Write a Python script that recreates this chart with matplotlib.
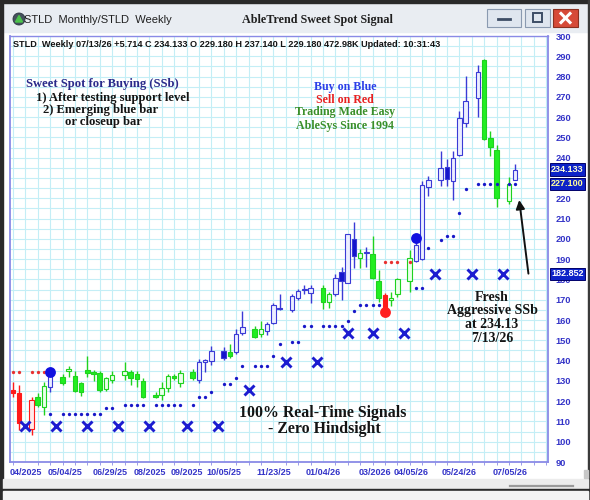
import matplotlib
matplotlib.use("Agg")
import matplotlib.pyplot as plt
import matplotlib.transforms as mtransforms
from matplotlib.patches import Rectangle, Circle, Polygon

# ---- data (slot = weekly bar position, gaps have no bar) ----
bar_slot = [0, 1, 3, 4, 5, 6, 8, 9, 10, 11, 12, 13, 14, 15, 16, 18, 19, 20, 21,
            23, 24, 25, 26, 27, 29, 30, 31, 32, 34, 35, 36, 37, 39, 40, 41, 42,
            43, 45, 46, 47, 48, 50, 51, 52, 53, 54, 55, 56, 57, 58, 59, 60, 61,
            62, 64, 65, 66, 67, 69, 70, 71, 72, 73, 75, 76, 77, 78, 80, 81]
bar_open = [125.6, 124.0, 106.3, 122.0, 117.0, 127.0, 131.8, 135.0, 132.5, 128.8,
            135.4, 134.6, 134.0, 125.8, 130.4, 132.8, 134.2, 133.6, 130.0, 123.0,
            123.0, 126.3, 132.3, 128.8, 134.6, 130.4, 139.4, 139.9, 144.7, 144.0,
            144.4, 153.4, 155.8, 153.0, 154.6, 158.6, 166.0, 164.9, 171.0, 174.6,
            173.4, 175.8, 168.9, 172.7, 183.7, 178.3, 200.1, 190.8, 192.8, 192.7,
            179.1, 172.3, 169.7, 172.6, 179.0, 188.9, 190.0, 225.5, 229.1, 235.2,
            228.3, 241.4, 257.0, 269.3, 288.0, 249.6, 243.8, 218.7, 229.18]
bar_high = [129.4, 128.0, 122.0, 124.0, 129.5, 134.4, 133.4, 137.5, 135.0, 129.6,
            142.2, 135.5, 134.8, 132.0, 135.0, 139.4, 135.4, 135.0, 131.5, 124.6,
            129.6, 133.4, 133.4, 135.4, 135.8, 141.0, 140.8, 147.0, 146.8, 148.4,
            155.8, 164.6, 157.0, 159.7, 159.0, 168.5, 172.7, 172.7, 175.4, 177.1,
            177.1, 177.1, 173.8, 182.5, 186.2, 202.6, 208.4, 195.1, 195.8, 201.6,
            184.8, 173.5, 173.8, 180.5, 194.7, 200.0, 228.3, 230.8, 243.4, 239.3,
            243.1, 263.2, 280.4, 285.8, 288.7, 253.4, 246.3, 230.3, 237.14]
bar_low = [122.0, 106.0, 103.3, 117.0, 113.0, 124.5, 128.0, 132.0, 124.3, 122.5,
           132.1, 130.0, 124.6, 125.0, 128.8, 130.4, 128.0, 127.0, 121.5, 121.4,
           120.6, 124.6, 130.4, 127.0, 130.4, 128.8, 134.4, 137.8, 140.3, 141.1,
           143.3, 152.6, 150.9, 151.7, 152.6, 158.0, 164.9, 164.1, 169.7, 172.7,
           168.5, 165.6, 166.1, 171.7, 169.9, 178.0, 185.4, 185.4, 186.2, 180.0,
           169.1, 164.0, 167.1, 171.3, 174.0, 188.4, 189.5, 221.0, 226.0, 226.0,
           219.0, 240.6, 255.0, 260.0, 248.8, 240.8, 215.8, 217.1, 229.18]
bar_close = [124.0, 109.0, 120.6, 118.0, 127.5, 132.4, 128.8, 135.8, 124.8, 124.3,
             133.7, 133.6, 125.5, 131.2, 132.8, 134.8, 131.6, 130.7, 122.2, 122.2,
             126.3, 132.3, 131.2, 134.0, 131.2, 139.5, 140.2, 144.9, 141.1, 142.4,
             153.0, 156.7, 151.7, 155.8, 157.8, 167.6, 165.4, 171.7, 174.1, 175.2,
             175.8, 168.9, 172.7, 180.9, 179.3, 202.3, 191.4, 193.2, 193.4, 180.9,
             170.6, 164.9, 171.0, 180.0, 190.5, 197.1, 226.6, 229.1, 234.9, 229.4,
             239.8, 259.8, 268.2, 282.5, 249.3, 245.5, 220.3, 226.9, 234.133]
#r = sell (red), b = buy (blue), g = neutral (green), one letter per bar
bar_mode = ("rrrggb" "ggggggggg" "gggg" "ggggg" "g" "bbbb" "g" "bb" "gg" "bbb"
            "bbbb" "gg" "bbbb" "g" "b" "gg" "r" "gg" "g" "bbb" "bbbbb" "b" "ggg"
            "g" "b")

blue_stop_slot = [6, 8, 9, 10, 11, 12, 13, 14, 15, 16, 18, 19, 20, 21, 23, 24, 25,
                  26, 27, 29, 30, 31, 32, 34, 35, 36, 37, 39, 40, 41, 42, 43, 45,
                  46, 47, 48, 50, 51, 52, 53, 54, 55, 56, 57, 58, 59, 65, 66, 67,
                  69, 70, 71, 72, 73, 75, 76, 77, 78, 80, 81]
blue_stop_val = [113.7, 113.7, 113.7, 113.7, 113.7, 113.7, 113.7, 113.7, 116.5,
                 116.5, 118.1, 118.1, 118.1, 118.1, 118.1, 118.1, 118.1, 118.1,
                 118.1, 118.1, 121.9, 121.9, 124.6, 128.3, 128.3, 131.2, 137.3,
                 137.3, 137.3, 137.3, 142.3, 148.2, 149.0, 149.0, 157.1, 157.1,
                 157.1, 157.1, 157.1, 157.1, 159.7, 164.2, 167.4, 167.4, 167.4,
                 167.4, 175.6, 175.6, 195.3, 199.3, 201.2, 201.2, 212.6, 224.5,
                 226.9, 226.9, 226.9, 226.9, 227.1, 227.1]
red_stop_slot = [0, 1, 3, 4, 5, 60, 61, 62, 64]
red_stop_val = [134.6, 134.6, 134.6, 134.6, 134.6, 188.7, 188.7, 188.7, 188.7]

month_stop_slot = [2, 7, 12, 17, 22, 28, 33, 38, 44, 49, 54, 58, 63, 68, 74, 79]
month_stop_val = [107.7, 107.7, 107.7, 107.7, 107.7, 107.7, 107.7, 125.5, 139.4,
                  139.4, 153.5, 153.5, 153.5, 182.85, 182.85, 182.85]

signal_slot = [6, 60, 65]
signal_val = [134.6, 164.1, 200.4]
signal_color = ["#1010e0", "#ff2020", "#1010e0"]

xtick_pos = [2, 8.4, 15.6, 22, 28, 34, 42, 50, 58.4, 64.2, 72, 80.2]
xtick_lab = ["04/2025", "05/04/25", "06/29/25", "08/2025", "09/2025", "10/05/25",
             "11/23/25", "01/04/26", "03/2026", "04/05/26", "05/24/26", "07/05/26"]
#230 sits behind the two price boxes on the original, so it is not drawn
ytick_val = [90, 100, 110, 120, 130, 140, 150, 160, 170, 180, 190, 200, 210, 220,
             240, 250, 260, 270, 280, 290, 300]

price_boxes = [(234.133, "234.133", "#ffffd8"), (227.100, "227.100", "#ffff9a"),
               (182.852, "182.852", "#ffffff")]

header = ("STLD  Weekly 07/13/26 +5.714 C 234.133 O 229.180 H 237.140 "
          "L 229.180 472.98K Updated: 10:31:43")

assert len(bar_mode) == len(bar_slot)

SERIF = "Liberation Serif"
SANS = "Liberation Sans"
W, H = 590, 500

edge_col = {"b": "#3a3ad6", "g": "#1fd21f", "r": "#ff1a1a"}
fill_col = {"b": "#1414cc", "g": "#22ee22", "r": "#ff1a1a"}
hollow_col = {"b": "#eceeff", "g": "#eaffea", "r": "#ffeaea"}

fig = plt.figure(figsize=(W / 100, H / 100), dpi=100, facecolor="white")

#Window chrome behind the chart
bg = fig.add_axes([0, 0, 1, 1])
bg.set_xlim(0, W)
bg.set_ylim(H, 0)
bg.axis("off")
bg.add_patch(Rectangle((0, 0), W, 32, color="#e9edf2"))
bg.add_patch(Rectangle((0, 0), W, 3, color="#2a2a2a"))
bg.add_patch(Rectangle((0, 0), 3, H, color="#2a2a2a"))
bg.add_patch(Rectangle((W - 2, 0), 2, H, color="#3a3a3a"))
bg.add_patch(Rectangle((3, 479), W - 5, 10, color="#ececec"))
bg.add_patch(Rectangle((0, 489), W, 2, color="#2a2a2a"))
bg.add_patch(Rectangle((3, 491), W - 5, 9, color="#f4f4f4"))
bg.plot([510, 573], [486, 486], color="#9a9a9a", lw=1.6)
bg.add_patch(Rectangle((584, 470), 4, 8, color="#c8c8c8"))
#title bar buttons
bg.add_patch(Rectangle((487, 9), 34, 18, fc="#dfe6ef", ec="#8a9ab0", lw=0.8))
bg.plot([498, 510], [19, 19], color="#3d4d66", lw=2)
bg.add_patch(Rectangle((525, 9), 25, 18, fc="#dfe6ef", ec="#8a9ab0", lw=0.8))
bg.add_patch(Rectangle((533, 13), 9, 9, fc="none", ec="#3d4d66", lw=1.4))
bg.add_patch(Rectangle((553, 9), 25, 18, fc="#d64a38", ec="#8a3020", lw=0.8))
bg.plot([561, 570], [13.5, 22.5], color="white", lw=2.2)
bg.plot([561, 570], [22.5, 13.5], color="white", lw=2.2)
#app icon
bg.add_patch(Circle((19, 19), 6, fc="#46525e", ec="#2a3440", lw=0.6))
bg.add_patch(Polygon([[15.5, 22], [22.5, 22], [19, 15.5]], color="#4cc44c"))
bg.text(24, 20, "STLD  Monthly/STLD  Weekly", fontsize=8, family=SANS,
        color="#202020", va="center", ha="left")
bg.text(317, 20, "AbleTrend Sweet Spot Signal", fontsize=8.7, family=SERIF,
        fontweight="bold", color="#202020", va="center", ha="center")

#Chart panel
ax = fig.add_axes([10 / W, (H - 462) / H, 538 / W, 426 / H], facecolor="white")
ax.set_xlim(-0.48, 86.3)
ax.set_ylim(90, 300)

for x in range(0, 87, 2):
    ax.axvline(x, color="#c4eef6", lw=0.8, zorder=0)
for y in range(90, 301, 5):
    ax.axhline(y, color="#c4eef6", lw=0.8, zorder=0)

for s, o, h, l, c, m in zip(bar_slot, bar_open, bar_high, bar_low, bar_close, bar_mode):
    ax.vlines(s, l, h, color=edge_col[m], lw=1.0, zorder=2)
    lo, hi = min(o, c), max(o, c)
    face = fill_col[m] if c < o else hollow_col[m]
    ax.add_patch(Rectangle((s - 0.37, lo), 0.74, max(hi - lo, 0.4), fc=face,
                           ec=edge_col[m], lw=0.8, zorder=3))

ax.plot(blue_stop_slot, blue_stop_val, ls="none", marker="o", ms=2.4,
        color="#1818c8", mew=0, zorder=4)
ax.plot(red_stop_slot, red_stop_val, ls="none", marker="o", ms=2.4,
        color="#e83030", mew=0, zorder=4)
ax.plot(month_stop_slot, month_stop_val, ls="none", marker="x", ms=6.5,
        mew=2.1, color="#1c1cd0", zorder=4)
for s, v, col in zip(signal_slot, signal_val, signal_color):
    ax.plot(s, v, marker="o", ms=7.8, color=col, mew=0, zorder=5)

ax.annotate("", xy=(81.6, 220.5), xytext=(83.2, 181.5),
            arrowprops=dict(arrowstyle="-|>", color="#111111", lw=1.4,
                            mutation_scale=13), zorder=6)

for sp in ax.spines.values():
    sp.set_color("#8a8ae6")
    sp.set_linewidth(1.3)
ax.spines["top"].set_linewidth(1.0)

ax.yaxis.tick_right()
ax.set_yticks(ytick_val)
ax.tick_params(axis="y", length=0, pad=5.5, labelsize=6.7, labelcolor="#3434c8")
ax.set_xticks(xtick_pos)
ax.set_xticklabels(xtick_lab)
ax.set_xticks(range(0, 87, 2), minor=True)
ax.tick_params(axis="x", which="major", length=0, pad=4, labelsize=6.5,
               labelcolor="#3434c8")
ax.tick_params(axis="x", which="minor", length=2.5, color="#8a8ae6")
for lab in ax.get_xticklabels() + ax.get_yticklabels():
    lab.set_fontweight("bold")
    lab.set_family(SANS)

trans = mtransforms.blended_transform_factory(ax.transAxes, ax.transData)
for val, txt, tc in price_boxes:
    ax.text(1.006, val, txt, transform=trans, ha="left", va="center",
            fontsize=6.5, fontweight="bold", family=SANS, color=tc, clip_on=False,
            bbox=dict(boxstyle="square,pad=0.18", fc="#0c22c8", ec="#00006a", lw=0.7),
            zorder=7)

#Texts over the chart, placed in pixel coordinates
ov = fig.add_axes([0, 0, 1, 1], facecolor="none")
ov.set_xlim(0, W)
ov.set_ylim(H, 0)
ov.axis("off")
ov.text(13, 47, header, fontsize=6.6, family=SANS, fontweight="bold",
        color="#141414", ha="left", va="baseline")


def label(x, y, s, color, size=8.6, ha="left"):
    ov.text(x, y, s, fontsize=size, family=SERIF, fontweight="bold",
            color=color, ha=ha, va="baseline")


label(26, 87.5, "Sweet Spot for Buying (SSb)", "#2a2a8a", size=9.1)
label(36, 100.5, "1) After testing support level", "#141414", size=9.1)
label(43, 113, "2) Emerging blue bar", "#141414", size=9.1)
label(65, 125.5, "or closeup bar", "#141414", size=9.1)
label(345, 90, "Buy on Blue", "#2b3fe8", ha="center")
label(345, 103, "Sell on Red", "#e82020", ha="center")
label(345, 115.5, "Trading Made Easy", "#3a8f2a", ha="center")
label(345, 128.5, "AbleSys Since 1994", "#3a8f2a", ha="center")
label(239, 417, "100% Real-Time Signals", "#141414", size=11.4)
label(268, 433, "- Zero Hindsight", "#141414", size=11.4)
label(492, 301, "Fresh", "#141414", size=10, ha="center")
label(492, 314, "Aggressive SSb", "#141414", size=10, ha="center")
label(492, 328, "at 234.13", "#141414", size=10, ha="center")
label(492, 342, "7/13/26", "#141414", size=10, ha="center")

fig.savefig("out.png", dpi=100, facecolor="white")
